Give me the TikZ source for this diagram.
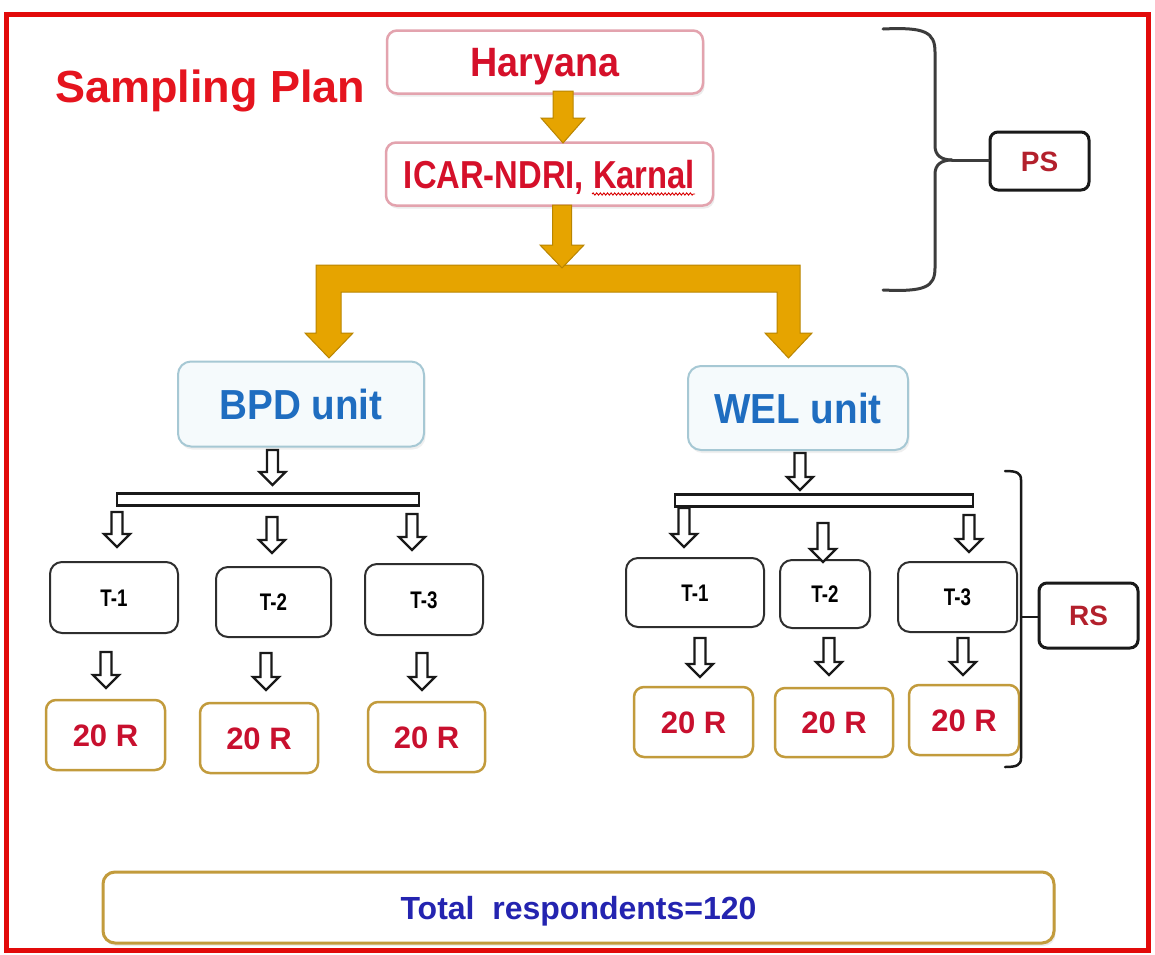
\documentclass[tikz,border=0pt]{standalone}
\usepackage{fontspec}
\setmainfont{Liberation Sans}
\newfontfamily\fsn[FakeStretch=0.92]{Liberation Sans}
\newfontfamily\fsicar[FakeStretch=0.84]{Liberation Sans}
\newfontfamily\fst[FakeStretch=0.78]{Liberation Sans}
\usetikzlibrary{calc,shadows,decorations.pathmorphing}
\definecolor{bordred}{HTML}{E20A0A}
\definecolor{titlered}{HTML}{E5141E}
\definecolor{pinkb}{HTML}{E3A3AE}
\definecolor{boxred}{HTML}{D5102A}
\definecolor{goldarr}{HTML}{E6A400}
\definecolor{golddark}{HTML}{B98500}
\definecolor{blueb}{HTML}{A6C8D4}
\definecolor{bluefill}{HTML}{F5FAFC}
\definecolor{bluetext}{HTML}{1F6DC0}
\definecolor{tbord}{HTML}{2E2E2E}
\definecolor{rbord}{HTML}{C29B3C}
\definecolor{rtext}{HTML}{C8102E}
\definecolor{pstext}{HTML}{B3202C}
\definecolor{navytext}{HTML}{2424B0}
\definecolor{bracegray}{HTML}{3C3C3C}
\newcommand{\blockarrow}[6]{%
  \draw[#1] let \p1=(#2), \p2=(#3) in
    (\x1-#4,\y1) -- (\x1+#4,\y1) -- (\x1+#4,\y2+#6) -- (\x1+#5,\y2+#6) --
    (\x1,\y2) -- (\x1-#5,\y2+#6) -- (\x1-#4,\y2+#6) -- cycle;}
\newcommand{\harr}[2]{\blockarrow{hollowarr}{#1}{#2}{5.5pt}{13pt}{13pt}}
\tikzset{
  basebox/.style={rounded corners=10pt, inner sep=0pt, text depth=0pt},
  pinkbox/.style={basebox, draw=pinkb, line width=2.5pt, fill=white,
    drop shadow={opacity=0.15, shadow xshift=1.5pt, shadow yshift=-3pt}, text=boxred},
  unitbox/.style={basebox, rounded corners=13pt, draw=blueb, line width=2pt, fill=bluefill,
    drop shadow={opacity=0.12, shadow xshift=1.5pt, shadow yshift=-3pt}, text=bluetext,
    font=\fsn\bfseries\fontsize{42}{44}\selectfont, text height=30pt},
  tbox/.style={basebox, rounded corners=12pt, draw=tbord, line width=2pt, fill=white,
    font=\fst\bfseries\fontsize{24}{26}\selectfont, text height=17pt},
  rbox/.style={basebox, draw=rbord, line width=2.5pt, fill=white,
    font=\bfseries\fontsize{31}{33}\selectfont, text height=22pt, text=rtext},
  labbox/.style={basebox, rounded corners=8pt, draw=black!90, line width=3pt, fill=white,
    font=\bfseries\fontsize{28}{30}\selectfont, text height=20pt, text=pstext},
  hbar/.style={draw=black!90, line width=2.5pt, fill=white, inner sep=0pt},
  hollowarr/.style={draw=black!90, line width=2.3pt, fill=white, line join=miter},
  goldarrow/.style={fill=goldarr, draw=golddark, line width=1pt, line join=miter},
  bracestyle/.style={draw=bracegray, line width=3pt, line cap=round},
  rsbrace/.style={draw=black!90, line width=2.5pt, line cap=round},
}
\begin{document}
\begin{tikzpicture}[x=1pt,y=-1pt]
\fill[white] (0,0) rectangle (1155,954);
\useasboundingbox (0,0) rectangle (1155,954);
\draw[bordred, line width=5pt] (6.5,14) rectangle (1148.5,950);

% title
\node[anchor=base west, inner sep=0pt, text=titlered, font=\bfseries\fontsize{45}{50}\selectfont] (title) at (55,102) {Sampling Plan};

% top boxes
\node[pinkbox, minimum width=316, minimum height=63, font=\fsn\bfseries\fontsize{41}{43}\selectfont, text height=29.4pt] (har) at (545,62) {Haryana};
\node[pinkbox, minimum width=327, minimum height=63, font=\fsicar\bfseries\fontsize{39}{41}\selectfont, text height=28pt] (icar) at (549.5,174) {ICAR-NDRI, Karnal};
\draw[red!85!black, line width=0.9pt, decorate, decoration={snake, amplitude=1.1pt, segment length=3.6pt}] (592,194) -- (695,194);

% gold arrows
\coordinate (g1s) at (563,91);
\coordinate (g1e) at (563,143);
\blockarrow{goldarrow}{g1s}{g1e}{10pt}{22pt}{25pt}
\draw[goldarrow] (316,265) -- (800,265) -- (800,333) -- (812,333) -- (788.5,358) -- (765,333) -- (777,333) -- (777,292) -- (341,292) -- (341,333) -- (353,333) -- (329,358) -- (305,333) -- (316,333) -- cycle;
\coordinate (g2s) at (562,205);
\coordinate (g2e) at (562,268);
\blockarrow{goldarrow}{g2s}{g2e}{9.5pt}{22pt}{23pt}

% unit boxes
\node[unitbox, minimum width=246, minimum height=85] (bpd) at (301,404) {BPD unit};
\node[unitbox, minimum width=220, minimum height=84] (wel) at (798,408) {WEL unit};

% hollow bars
\node[hbar, minimum width=302, minimum height=12] (bar1) at (268,499.5) {};
\node[hbar, minimum width=298, minimum height=12] (bar2) at (824,500.5) {};

% BPD subtree
\node[tbox, minimum width=128, minimum height=71] (t11) at (114,597.5) {T-1};
\node[tbox, minimum width=115, minimum height=70] (t12) at (273.5,602) {T-2};
\node[tbox, minimum width=118, minimum height=71] (t13) at (424,599.5) {T-3};
\node[rbox, minimum width=119, minimum height=70] (r11) at (105.5,735) {20 R};
\node[rbox, minimum width=118, minimum height=70] (r12) at (259,738) {20 R};
\node[rbox, minimum width=117, minimum height=70] (r13) at (426.5,737) {20 R};

% WEL subtree
\node[tbox, minimum width=138, minimum height=69] (t21) at (695,592.5) {T-1};
\node[tbox, minimum width=90, minimum height=68] (t22) at (825,594) {T-2};
\node[tbox, minimum width=119, minimum height=70] (t23) at (957.5,597) {T-3};
\node[rbox, minimum width=119, minimum height=70] (r21) at (693.5,722) {20 R};
\node[rbox, minimum width=118, minimum height=69] (r22) at (834,722.5) {20 R};
\node[rbox, minimum width=110, minimum height=70] (r23) at (964,720) {20 R};

% hollow arrows BPD
\coordinate (h0s) at (272.5,450); \coordinate (h0e) at (272.5,485);
\harr{h0s}{h0e}
\coordinate (h1s) at (117,512); \coordinate (h1e) at (117,547);
\harr{h1s}{h1e}
\coordinate (h2s) at (272,517); \coordinate (h2e) at (272,553);
\harr{h2s}{h2e}
\coordinate (h3s) at (412,514); \coordinate (h3e) at (412,550);
\harr{h3s}{h3e}
\coordinate (h4s) at (106,652); \coordinate (h4e) at (106,688);
\harr{h4s}{h4e}
\coordinate (h5s) at (266,653); \coordinate (h5e) at (266,690);
\harr{h5s}{h5e}
\coordinate (h6s) at (422,653); \coordinate (h6e) at (422,690);
\harr{h6s}{h6e}

% hollow arrows WEL
\coordinate (k0s) at (800,453); \coordinate (k0e) at (800,490);
\harr{k0s}{k0e}
\coordinate (k1s) at (684,508); \coordinate (k1e) at (684,547);
\harr{k1s}{k1e}
\coordinate (k2s) at (823,523); \coordinate (k2e) at (823,562);
\harr{k2s}{k2e}
\coordinate (k3s) at (969,515); \coordinate (k3e) at (969,552);
\harr{k3s}{k3e}
\coordinate (k4s) at (700,638); \coordinate (k4e) at (700,677);
\harr{k4s}{k4e}
\coordinate (k5s) at (829,638); \coordinate (k5e) at (829,675);
\harr{k5s}{k5e}
\coordinate (k6s) at (963,638); \coordinate (k6e) at (963,675);
\harr{k6s}{k6e}

% PS brace and label
\node[labbox, minimum width=99, minimum height=58] (ps) at (1039.5,161) {PS};
\coordinate (pstip) at (952,160);
\draw[bracestyle] (883,29) .. controls (925,27) and (935,32) .. (935,52) -- (935,146) .. controls (935,155) and (941,160) .. (pstip);
\draw[bracestyle] (883,290) .. controls (925,292) and (935,287) .. (935,268) -- (935,174) .. controls (935,165) and (941,160) .. (pstip);
\draw[bracestyle] (pstip) -- (pstip -| ps.west);

% RS bracket and label
\node[labbox, minimum width=99, minimum height=65] (rs) at (1088.5,615.5) {RS};
\coordinate (rstip) at (1021,617);
\draw[rsbrace] (1005,471) .. controls (1017,471) and (1021,473) .. (1021,480) -- (1021,758) .. controls (1021,765) and (1017,767) .. (1005,767);
\draw[rsbrace] (rstip) -- (rstip -| rs.west);

% total
\node[basebox, rounded corners=12pt, draw=rbord, line width=3pt, fill=white,
  drop shadow={opacity=0.15, shadow xshift=1.5pt, shadow yshift=-3pt},
  minimum width=951, minimum height=71, text=navytext,
  font=\bfseries\fontsize{32}{34}\selectfont, text height=23pt] (total) at (578.5,907.5) {Total\ \ respondents=120};
\end{tikzpicture}
\end{document}
